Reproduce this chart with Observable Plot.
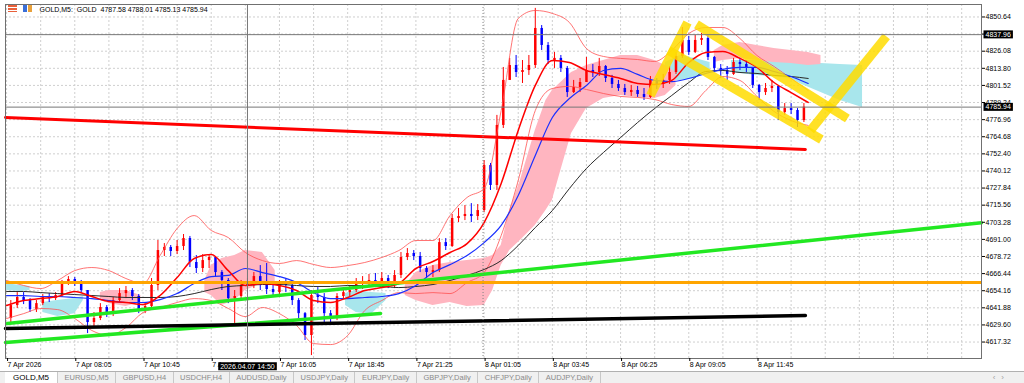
<!DOCTYPE html>
<html><head><meta charset="utf-8">
<script src="https://cdn.jsdelivr.net/npm/d3@7"></script>
<script src="https://cdn.jsdelivr.net/npm/@observablehq/plot@0.6"></script>
<style>
html,body{margin:0;padding:0;background:#fff;width:1024px;height:383px;overflow:hidden;font-family:"Liberation Sans",Arial,sans-serif;}
#wrap{position:relative;width:1024px;height:383px;}
#chart svg{display:block;}
#chart text{white-space:pre;}
.icon{position:absolute;top:5px;width:9px;height:7px;}
#tabs{position:absolute;left:0;top:371px;width:1024px;height:12px;background:#f0f0f0;border-top:1px solid #b0b0b0;box-sizing:border-box;display:flex;align-items:center;font-size:7.5px;color:#8a8a8a;padding-left:5px;}
#tabs .tab{padding:0 6.5px;border-right:1px solid #c8c8c8;line-height:11px;white-space:nowrap;}
#tabs .tab.active{background:#fff;color:#000;padding:0 8px;font-size:8px;}
#arrows{position:absolute;right:14px;top:373px;font-size:8px;color:#a0a0a0;letter-spacing:6px;}
</style></head><body>
<div id="wrap">
<div id="chart"></div>
<div class="icon" style="left:8px;background:linear-gradient(#e8603a 0 30%,#fff 30% 45%,#e8603a 45% 70%,#fff 70% 80%,#e8603a 80%);"></div>
<div class="icon" style="left:23px;background:linear-gradient(90deg,#3a6fd8 0 45%,#fff 45% 55%,#e8a03a 55%);"></div>
<div id="tabs"></div>
<div id="arrows">‹›</div>
</div>
<script>
// ---------- data ----------
const headerText = "GOLD,M5:  GOLD  4787.58 4788.01 4785.13 4785.94";
const timeLabels = ["7 Apr 2026","7 Apr 08:05","7 Apr 10:45","7 Apr 13:25","7 Apr 16:05","7 Apr 18:45","7 Apr 21:25","8 Apr 01:05","8 Apr 03:45","8 Apr 06:25","8 Apr 09:05","8 Apr 11:45"];
const yTicks = [4850.64,4838.36,4826.08,4813.80,4801.52,4789.24,4776.96,4764.68,4752.40,4740.12,4727.84,4715.56,4703.28,4691.00,4678.72,4666.44,4654.16,4641.88,4629.60,4617.32];
const tabNames = ["GOLD,M5","EURUSD,M5","GBPUSD,H4","USDCHF,H4","AUDUSD,Daily","USDJPY,Daily","EURJPY,Daily","GBPJPY,Daily","CHFJPY,Daily","AUDJPY,Daily"];
const crossTime = "2026.04.07 14:50";
const crossBar = 113;
const crossPrice = 4837.96;
const bidPrice = 4785.94;
const daySeparatorBar = 223.5;

// candles (each = 3 M5 bars)
const candleOpen = [4634.2,4643.5,4649.3,4647.1,4640.6,4644.9,4649.3,4648.5,4650.7,4659.3,
4662.2,4660.0,4654.3,4631.3,4634.2,4642.1,4637.7,4647.1,4652.1,4654.3,
4650.0,4639.9,4642.8,4657.9,4683.0,4685.2,4682.3,4685.9,4691.6,4674.4,
4670.1,4675.8,4678.0,4667.2,4661.5,4648.5,4650.0,4657.9,4659.3,4664.3,
4658.6,4655.0,4652.8,4659.3,4657.9,4647.1,4637.7,4622.0,4650.7,4649.3,
4637.7,4634.2,4650.0,4652.8,4654.3,4658.6,4660.0,4661.5,4660.0,4662.9,
4657.9,4665.1,4678.0,4680.9,4678.7,4670.1,4667.2,4668.6,4688.7,4685.9,
4706.0,4707.4,4708.9,4707.4,4711.7,4744.0,4729.7,4772.8,4805.1,4815.8,
4810.8,4812.2,4815.8,4842.4,4830.2,4819.4,4820.9,4813.7,4796.4,4800.0,
4803.6,4812.2,4810.8,4815.1,4806.5,4802.2,4799.3,4796.4,4797.9,4795.0,
4792.9,4805.1,4802.2,4805.1,4810.8,4822.3,4833.8,4825.2,4833.8,4835.2,
4821.6,4813.7,4812.2,4809.4,4818.0,4816.5,4813.7,4801.5,4796.4,4799.3,
4800.8,4782.1,4784.9,4783.5,4776.3];
const candleHigh = [4647.1,4652.8,4652.8,4648.5,4647.1,4651.4,4652.1,4652.8,4661.5,4664.3,
4663.6,4661.5,4654.3,4638.5,4644.9,4643.5,4649.3,4655.7,4657.2,4655.7,
4651.4,4645.7,4662.9,4690.2,4688.0,4686.6,4690.2,4694.5,4693.1,4679.4,
4680.1,4679.4,4678.7,4668.6,4662.9,4654.3,4661.5,4662.9,4667.2,4672.2,
4673.7,4657.9,4661.5,4662.2,4659.3,4648.5,4638.5,4654.3,4656.4,4652.1,
4639.9,4652.1,4655.7,4657.9,4662.9,4664.3,4665.8,4666.5,4667.2,4665.1,
4668.6,4681.6,4684.4,4683.0,4681.6,4671.5,4672.2,4691.6,4691.6,4708.9,
4713.2,4715.3,4716.7,4716.0,4747.6,4745.5,4780.0,4814.4,4820.9,4823.0,
4819.4,4823.0,4856.8,4844.5,4832.3,4825.2,4823.0,4815.1,4805.1,4806.5,
4821.6,4816.5,4820.9,4815.8,4808.7,4805.1,4802.2,4801.5,4800.8,4799.3,
4807.9,4806.5,4809.4,4815.1,4825.2,4843.1,4836.7,4837.4,4838.8,4838.1,
4822.3,4816.5,4815.1,4820.9,4820.9,4819.4,4813.7,4802.2,4802.9,4805.1,
4800.8,4788.5,4788.5,4784.9,4788.5];
const candleLow = [4631.3,4641.4,4644.2,4638.5,4638.5,4643.5,4645.7,4647.1,4649.3,4657.9,
4657.2,4652.8,4623.4,4627.0,4632.7,4634.9,4635.6,4645.7,4648.5,4647.1,
4637.7,4637.7,4640.6,4654.3,4678.7,4678.7,4680.1,4683.0,4670.8,4666.5,
4667.2,4670.1,4664.3,4654.3,4644.9,4628.4,4648.5,4652.8,4655.7,4654.3,
4651.4,4649.3,4650.7,4652.8,4643.5,4634.2,4618.4,4607.6,4644.9,4630.6,
4629.9,4632.7,4648.5,4650.0,4652.8,4655.0,4656.4,4656.4,4657.2,4655.7,
4655.7,4662.9,4675.8,4675.8,4667.2,4662.9,4663.6,4667.2,4683.0,4685.2,
4703.1,4704.5,4703.1,4704.5,4710.3,4726.1,4726.1,4770.6,4805.1,4807.2,
4802.9,4808.7,4813.7,4826.6,4816.5,4813.7,4810.8,4792.9,4795.7,4796.4,
4805.1,4807.2,4807.9,4803.6,4799.3,4797.2,4794.3,4793.6,4792.9,4790.7,
4792.1,4798.6,4799.3,4802.2,4809.4,4820.9,4823.0,4824.4,4830.2,4819.4,
4810.8,4806.5,4805.1,4808.7,4812.2,4810.8,4799.3,4790.7,4794.3,4796.4,
4776.3,4780.0,4780.6,4771.3,4774.9];
const candleClose = [4643.5,4649.3,4647.1,4640.6,4644.9,4649.3,4648.5,4650.7,4659.3,4662.2,
4660.0,4654.3,4631.3,4634.2,4642.1,4637.7,4647.1,4652.1,4654.3,4650.0,
4639.9,4642.8,4657.9,4683.0,4685.2,4682.3,4685.9,4691.6,4674.4,4670.1,
4675.8,4678.0,4667.2,4661.5,4648.5,4650.0,4657.9,4659.3,4664.3,4658.6,
4655.0,4652.8,4659.3,4657.9,4647.1,4637.7,4622.0,4650.7,4649.3,4637.7,
4634.2,4650.0,4652.8,4654.3,4658.6,4660.0,4661.5,4660.0,4662.9,4657.9,
4665.1,4678.0,4680.9,4678.7,4670.1,4667.2,4668.6,4688.7,4685.9,4706.0,
4707.4,4708.9,4707.4,4711.7,4744.0,4729.7,4772.8,4805.1,4815.8,4810.8,
4812.2,4815.8,4842.4,4830.2,4819.4,4820.9,4813.7,4796.4,4800.0,4803.6,
4812.2,4810.8,4815.1,4806.5,4802.2,4799.3,4796.4,4797.9,4795.0,4792.9,
4805.1,4802.2,4805.1,4810.8,4822.3,4833.8,4825.2,4833.8,4835.2,4821.6,
4813.7,4812.2,4809.4,4818.0,4816.5,4813.7,4801.5,4796.4,4799.3,4800.8,
4782.1,4784.9,4783.5,4776.3,4785.94];

// indicators, sampled every 8 bars
const redMA = [4643.5,4647.1,4648.5,4650.0,4653.6,4650.0,4646.4,4645.7,4644.2,4650.7,
4663.6,4677.3,4680.1,4668.6,4657.9,4659.3,4657.9,4654.3,4647.1,4645.7,
4649.3,4654.3,4656.4,4659.3,4670.1,4675.1,4681.6,4688.0,4703.1,4731.1,
4769.2,4801.5,4819.4,4818.0,4812.2,4809.4,4806.5,4802.9,4802.2,4805.1,
4818.0,4825.2,4825.9,4820.9,4814.4,4803.6,4796.4,4789.3];
const blueMA = [4650.7,4650.7,4650.0,4650.0,4649.3,4648.5,4647.1,4645.7,4645.7,4647.8,
4652.1,4659.3,4664.3,4665.1,4670.1,4667.2,4664.3,4660.0,4652.8,4648.5,
4648.5,4649.3,4650.0,4652.1,4657.9,4667.2,4672.9,4679.4,4688.7,4701.0,
4722.5,4751.2,4778.5,4792.1,4801.5,4812.2,4813.7,4809.4,4805.1,4804.3,
4806.5,4810.1,4813.0,4814.4,4814.4,4811.5,4807.9,4802.9];
const blackMA = [4653.6,4653.6,4652.8,4652.1,4651.4,4650.7,4650.0,4649.3,4649.3,4649.3,
4650.0,4652.1,4655.0,4657.2,4657.9,4658.6,4658.6,4657.9,4657.2,4657.2,
4657.9,4657.9,4657.2,4656.4,4657.2,4658.6,4661.5,4665.1,4669.4,4675.8,
4686.6,4699.5,4711.7,4727.5,4741.9,4753.4,4764.1,4774.9,4785.0,4794.3,
4803.6,4811.5,4812.2,4810.8,4810.1,4808.7,4807.9,4806.5];
const bbUpper = [4661.5,4657.9,4655.7,4661.5,4668.6,4670.8,4668.6,4662.9,4659.3,4679.4,
4698.8,4708.1,4697.4,4692.3,4681.6,4675.8,4673.7,4675.8,4673.0,4670.8,
4672.2,4674.4,4678.0,4683.0,4690.2,4690.2,4708.1,4721.1,4727.5,4783.5,
4849.6,4855.3,4853.2,4846.7,4828.0,4822.3,4820.9,4820.1,4818.7,4826.6,
4838.8,4843.1,4843.1,4835.2,4823.0,4815.1,4806.5,4797.9];
const bbLower = [4634.2,4637.7,4641.4,4640.6,4634.2,4625.6,4622.0,4627.7,4638.5,4642.1,
4645.7,4648.5,4647.1,4641.4,4635.6,4642.1,4637.7,4629.2,4616.2,4615.5,
4622.0,4639.9,4647.1,4652.8,4652.1,4652.8,4652.1,4660.0,4667.2,4693.8,
4733.3,4783.5,4799.3,4800.8,4798.6,4795.7,4793.6,4792.9,4791.4,4787.8,
4786.4,4797.9,4807.9,4805.1,4793.6,4782.8,4776.3,4772.8];

// Ichimoku cloud pieces
const pinkSeg = [1,1,1,1, 2,2,2,2,2,2,2, 3,3,3,3,3,3,3,3,3,3,3,3,3,3,3,3,3,3,3,3,3,3, 4,4,4,4,4,4,4,4];
const pinkBar = [44,48,56,63, 93,96,101,107,112,120,126, 187,192,200,208,216,224,228,232,236,241,248,253,256,260,265,272,280,288,296,304,309,314, 332,336,344,352,360,368,376,382];
const pinkTop = [4652.8,4654.3,4654.3,4650.7, 4661.5,4672.2,4677.3,4679.4,4683.0,4681.6,4668.6, 4657.9,4667.2,4672.2,4674.4,4675.8,4677.3,4679.4,4686.6,4711.7,4733.3,4769.2,4790.7,4797.9,4803.6,4810.8,4815.8,4819.4,4823.0,4823.0,4819.4,4815.8,4810.8, 4826.6,4830.2,4832.3,4830.2,4828.0,4826.6,4825.2,4823.0];
const pinkBottom = [4647.1,4644.9,4642.8,4645.7, 4652.8,4650.7,4643.5,4647.1,4654.3,4659.3,4660.0, 4650.7,4647.1,4643.5,4645.7,4642.8,4643.5,4654.3,4672.2,4683.0,4690.2,4701.0,4711.7,4718.9,4740.4,4767.0,4785.0,4792.1,4794.3,4792.9,4792.1,4794.3,4801.5, 4818.0,4819.4,4820.9,4819.4,4818.0,4817.3,4815.8,4816.5];
const cyanSeg = [1,1,1, 2,2,2,2, 3,3,3,3, 4,4,4,4, 5,5,5,5,5,5,5];
const cyanBar = [-0.5,6.5,11, 17,24,32,36, 159,164,171,178, 309,316,323,330, 340,352,368,372,382,391,401.5];
const cyanTop = [4659.3,4657.9,4657.2, 4645.7,4647.1,4648.5,4650.0, 4652.1,4654.3,4652.8,4652.1, 4818.0,4823.0,4820.9,4818.0, 4819.4,4819.4,4818.0,4817.3,4817.3,4816.5,4815.8];
const cyanBottom = [4654.3,4653.6,4654.3, 4638.5,4635.6,4637.7,4647.1, 4643.5,4638.5,4637.0,4647.1, 4805.1,4805.1,4806.5,4810.8, 4810.8,4808.7,4806.5,4802.9,4796.4,4790.7,4785.7];

// drawn objects: [bar, price] anchors
const redTrend = [[-0.5, 4778.5], [374.7, 4755.5]];
const greenUpper = [[0.4, 4630.6], [457.3, 4703.0]];
const greenLower = [[-0.5, 4617.0], [175.4, 4637.8]];
const blackTrend = [[-0.5, 4627.0], [374.7, 4636.3]];
const orangeLevel = 4660.0;
const yellowLines = [[302.0,4794.3,319.4,4846.7],[323.6,4845.3,394.4,4777.8],[310.5,4826.6,382.2,4762.7],[377.1,4769.2,412.7,4836.7]];

// ---------- build ----------
const candles = candleClose.map((c, k) => ({bar: 3 * k + 2, open: candleOpen[k], close: c,
  high: Math.max(candleHigh[k], c, candleOpen[k]), low: Math.min(candleLow[k], c, candleOpen[k])}));
const ind = redMA.map((v, i) => ({bar: i * 8, red: v, blue: blueMA[i], black: blackMA[i], up: bbUpper[i], lo: bbLower[i]}));
const pink = pinkBar.map((b, i) => ({bar: b, top: pinkTop[i], bot: pinkBottom[i], seg: pinkSeg[i]}));
const cyan = cyanBar.map((b, i) => ({bar: b, top: cyanTop[i], bot: cyanBottom[i], seg: cyanSeg[i]}));
const labelBars = timeLabels.map((_, i) => i * 32);
const gridBars = d3.range(0, 457, 16);
const candleColor = d => d.close >= d.open ? "#ff0000" : "#0000ff";
const P = d => d[1], B = d => d[0];
const tagTexts = [crossPrice.toFixed(2), bidPrice.toFixed(2), crossTime];

const chart = Plot.plot({
  width: 1024, height: 371,
  marginTop: 4, marginBottom: 13, marginLeft: 5, marginRight: 43,
  style: {fontFamily: "'Liberation Sans', Arial, sans-serif", fontSize: "7px", background: "#fff", color: "#000", overflow: "visible"},
  x: {domain: [-0.5, 457.3], axis: null, label: null},
  y: {domain: [4605.5, 4859.6], axis: null, label: null},
  marks: [
    Plot.ruleX(gridBars, {x: d => d, stroke: "#cfcfcf", strokeDasharray: "2,2"}),
    Plot.ruleY(yTicks, {y: d => d, stroke: "#cfcfcf", strokeDasharray: "2,2"}),
    Plot.areaY(cyan, {x: "bar", y1: "bot", y2: "top", z: "seg", fill: "#a8e6ec", fillOpacity: 1}),
    Plot.areaY(pink, {x: "bar", y1: "bot", y2: "top", z: "seg", fill: "#ffb5c0", fillOpacity: 1}),
    Plot.ruleX(candles, {x: "bar", y1: "low", y2: "high", stroke: candleColor, strokeWidth: 1}),
    Plot.ruleX(candles, {x: "bar", y1: "open", y2: "close", stroke: candleColor, strokeWidth: 2.5}),
    Plot.line(ind, {x: "bar", y: "up", stroke: "#ff5050", strokeWidth: 0.8, curve: "monotone-x"}),
    Plot.line(ind, {x: "bar", y: "lo", stroke: "#ff5050", strokeWidth: 0.8, curve: "monotone-x"}),
    Plot.line(ind, {x: "bar", y: "black", stroke: "#2a2a2a", strokeWidth: 1, curve: "monotone-x"}),
    Plot.line(ind, {x: "bar", y: "blue", stroke: "#1a30ff", strokeWidth: 1.2, curve: "monotone-x"}),
    Plot.line(ind, {x: "bar", y: "red", stroke: "#ff0000", strokeWidth: 1.5, curve: "monotone-x"}),
    Plot.line(redTrend, {x: B, y: P, stroke: "#ff0000", strokeWidth: 3}),
    Plot.line(greenUpper, {x: B, y: P, stroke: "#22e822", strokeWidth: 3.5}),
    Plot.line(greenLower, {x: B, y: P, stroke: "#22e822", strokeWidth: 3.5}),
    Plot.line(blackTrend, {x: B, y: P, stroke: "#000", strokeWidth: 3.5}),
    Plot.ruleY([orangeLevel], {y: d => d, stroke: "#ffa500", strokeWidth: 3}),
    Plot.link(yellowLines, {x1: d => d[0], y1: d => d[1], x2: d => d[2], y2: d => d[3], stroke: "#ffdc00", strokeOpacity: 0.85, strokeWidth: 9, strokeLinecap: "butt"}),
    Plot.ruleX([daySeparatorBar], {x: d => d, stroke: "#808080", strokeDasharray: "1,2"}),
    Plot.ruleX([crossBar], {x: d => d, stroke: "#777", strokeWidth: 1}),
    Plot.ruleY([crossPrice, bidPrice], {y: d => d, stroke: "#777", strokeWidth: 1}),
    Plot.frame({stroke: "#707070"}),
    Plot.axisY({ticks: yTicks, anchor: "right", tickSize: 3, tickPadding: 1, tickFormat: d => d.toFixed(2), label: null, fontSize: 7}),
    Plot.axisX({ticks: labelBars, anchor: "bottom", tickSize: 3, tickPadding: 1, textAnchor: "start", dx: 1, tickFormat: d => timeLabels[labelBars.indexOf(d)], label: null, fontSize: 7}),
    Plot.text([headerText], {frameAnchor: "top-left", dx: 34, dy: 5, textAnchor: "start", lineAnchor: "middle", text: d => d, fill: "#000", fontSize: 7}),
    Plot.text([crossPrice, bidPrice], {y: d => d, frameAnchor: "right", dx: 4, textAnchor: "start", lineAnchor: "middle", text: d => d.toFixed(2), fill: "#fff", fontSize: 7}),
    Plot.text([crossBar], {x: d => d, frameAnchor: "bottom", dy: 8, lineAnchor: "middle", text: () => crossTime, fill: "#fff", fontSize: 7})
  ]
});
document.getElementById("chart").append(chart);
// black boxes behind the white tag texts
const texts = Array.from(chart.querySelectorAll("text"));
texts.filter(t => {
  const g = t.closest("g");
  return tagTexts.includes(t.textContent) && g && g.getAttribute("fill") === "#fff";
}).forEach(t => {
  const b = t.getBBox();
  const r = document.createElementNS("http://www.w3.org/2000/svg", "rect");
  r.setAttribute("x", b.x - 2); r.setAttribute("y", b.y - 0.5);
  r.setAttribute("width", b.width + 4); r.setAttribute("height", b.height + 1);
  r.setAttribute("fill", "#000");
  if (t.getAttribute("transform")) r.setAttribute("transform", t.getAttribute("transform"));
  t.parentNode.insertBefore(r, t);
});
// tab strip
const tabs = document.getElementById("tabs");
tabNames.forEach((n, i) => {
  const s = document.createElement("span");
  s.className = "tab" + (i === 0 ? " active" : "");
  s.textContent = n;
  tabs.append(s);
});
</script>
</body></html>
